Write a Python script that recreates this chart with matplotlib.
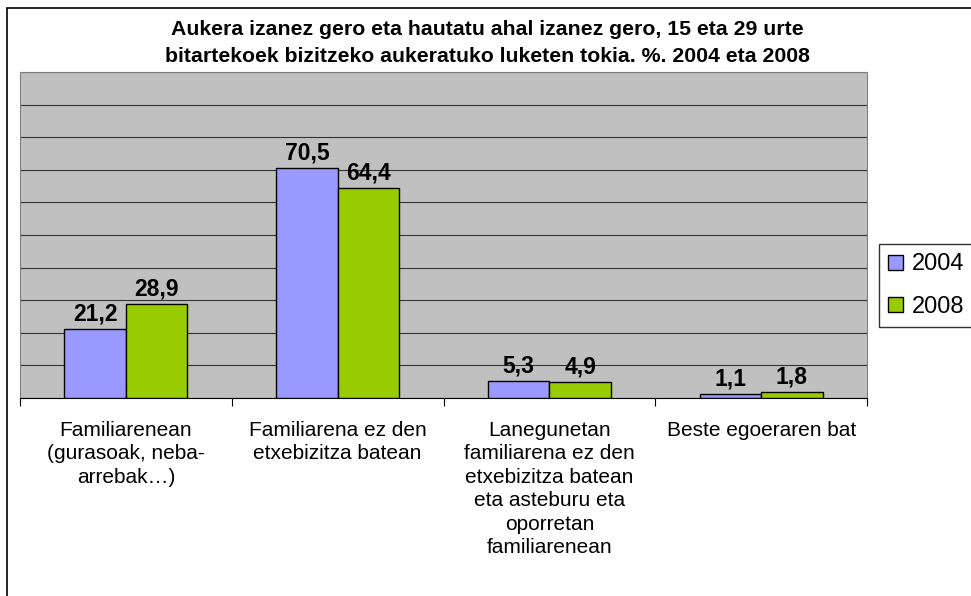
import matplotlib.pyplot as plt
import numpy as np
from matplotlib.patches import Rectangle

plt.rcParams['font.family'] = ['Liberation Sans', 'DejaVu Sans']

categories = ['Familiarenean\n(gurasoak, neba-\narrebak…)',
              'Familiarena ez den\netxebizitza batean',
              'Lanegunetan\nfamiliarena ez den\netxebizitza batean\neta asteburu eta\noporretan\nfamiliarenean',
              'Beste egoeraren bat']
years = ['2004', '2008']
values_2004 = [21.2, 70.5, 5.3, 1.1]
values_2008 = [28.9, 64.4, 4.9, 1.8]
colors = ['#9999FF', '#99CC00']
title = ('Aukera izanez gero eta hautatu ahal izanez gero, 15 eta 29 urte\n'
         'bitartekoek bizitzeko aukeratuko luketen tokia. %. 2004 eta 2008')

fig = plt.figure(figsize=(9.71, 5.96), dpi=100)
ax = fig.add_axes([20 / 971, 1 - 398 / 596, 847 / 971, 326 / 596])

# outer chart frame
fig.patches.append(Rectangle((7 / 971, -0.05), 1.2, 1 - 8 / 596 + 0.05,
                             transform=fig.transFigure, fill=False,
                             edgecolor='black', linewidth=1.2))

x = np.arange(len(categories))
w = 0.29
for i, (vals, col, yr) in enumerate(zip([values_2004, values_2008], colors, years)):
    pos = x + (i - 0.5) * w
    ax.bar(pos, vals, w, color=col, edgecolor='black', linewidth=1, label=yr, zorder=3)
    for p, v in zip(pos, vals):
        ax.text(p, v + 1.1, f'{v:.1f}'.replace('.', ','), ha='center', va='bottom',
                fontsize=16.5, fontweight='bold', zorder=4)

ax.set_facecolor('#C0C0C0')
ax.set_xlim(-0.5, len(categories) - 0.5)
ax.set_ylim(0, 100)
ax.set_yticks(np.arange(0, 101, 10))
ax.yaxis.grid(True, color='#333333', linewidth=0.8, zorder=0)
ax.tick_params(axis='y', length=0, labelleft=False)
ax.set_xticks(np.arange(-0.5, len(categories)), minor=False)
ax.set_xticklabels([])
ax.tick_params(axis='x', length=6, direction='out', color='black')
for i, c in enumerate(categories):
    ax.text(i, -7, c, ha='center', va='top', fontsize=15, linespacing=1.3,
            transform=ax.transData)
for s in ['left', 'top', 'right']:
    ax.spines[s].set_color('#808080')
ax.spines['bottom'].set_color('black')

fig.text(487 / 971, 1 - 20 / 596, title, ha='center', va='top', fontsize=15.3,
         fontweight='bold', linespacing=1.5)

leg = fig.legend(loc='upper left', bbox_to_anchor=(879 / 971, 1 - 244 / 596),
                 frameon=True, fancybox=False, edgecolor='black', fontsize=17,
                 handlelength=0.6, handleheight=0.6, handletextpad=0.4,
                 labelspacing=0.85, borderpad=0.4, borderaxespad=0)
leg.get_frame().set_linewidth(1)

fig.savefig('out.png', dpi=100)
